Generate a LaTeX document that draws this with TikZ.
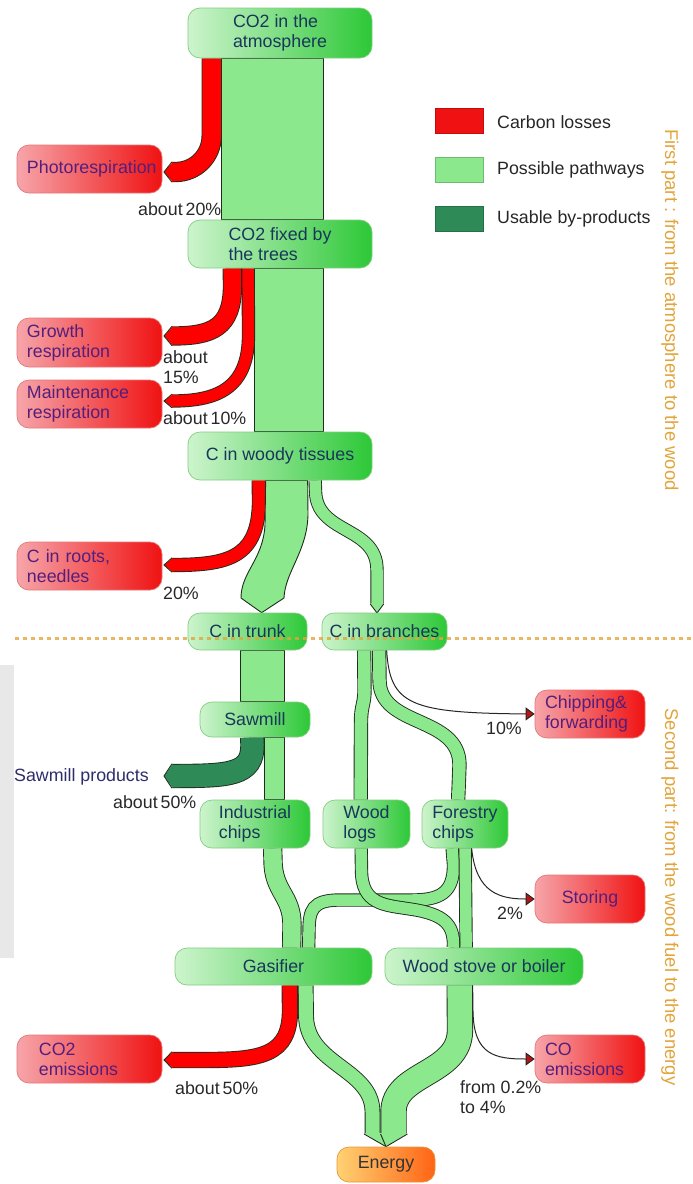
\documentclass[tikz,border=0pt]{standalone}
\usepackage{fontspec}
\setmainfont{Liberation Sans}
\usetikzlibrary{arrows.meta,calc}
\pgfdeclarelayer{bg}
\pgfsetlayers{bg,main}
\definecolor{gL}{RGB}{205,244,205}
\definecolor{gR}{RGB}{45,200,55}
\definecolor{gB}{RGB}{130,205,130}
\definecolor{gT}{RGB}{25,55,90}
\definecolor{rL}{RGB}{246,165,170}
\definecolor{rR}{RGB}{240,18,18}
\definecolor{rB}{RGB}{228,120,120}
\definecolor{rT}{RGB}{85,30,125}
\definecolor{oL}{RGB}{255,210,115}
\definecolor{oR}{RGB}{255,100,20}
\definecolor{oB}{RGB}{230,150,60}
\definecolor{pg}{RGB}{140,232,140}
\definecolor{fred}{RGB}{255,0,0}
\definecolor{dg}{RGB}{46,139,87}
\definecolor{outl}{RGB}{30,45,30}
\definecolor{lbl}{RGB}{40,40,40}
\definecolor{side}{RGB}{225,165,60}
\definecolor{arrred}{RGB}{185,20,20}
\definecolor{prodT}{RGB}{45,45,105}

\newcommand\tipleft[4]{%
  \fill[#4] (#1+1,#2-#3) -- (#1-8,#2) -- (#1+1,#2+#3) -- cycle;
  \draw[outl, line width=0.9pt] (#1,#2-#3) -- (#1-8,#2) -- (#1,#2+#3);}
\newcommand\tipdown[4]{%
  \fill[#4] (#1-#3,#2-1) -- (#1,#2+9) -- (#1+#3,#2-1) -- cycle;
  \draw[outl, line width=0.9pt] (#1-#3,#2) -- (#1,#2+9) -- (#1+#3,#2);}

\tikzset{
  txt/.style={font={\fontsize{17.8}{20}\selectfont}},
  gnode/.style={txt, rounded corners=12pt, left color=gL, right color=gR, draw=gB, line width=0.7pt, text=gT, align=left, inner sep=0pt},
  onode/.style={txt, rounded corners=12pt, left color=oL, right color=oR, draw=oB, line width=0.7pt, text=black!80, align=center, inner sep=0pt},
  rnode/.style={txt, rounded corners=12pt, left color=rL, right color=rR, draw=rB, line width=0.7pt, text=rT, align=left, inner xsep=10pt, inner ysep=0pt},
  flowband/.style={draw=outl, line width=0.9pt, double distance=#1},
  gflow/.style={flowband=#1, double=pg},
  rflow/.style={flowband=#1, double=fred},
  dflow/.style={flowband=#1, double=dg},
  gblock/.style={fill=pg, draw=outl, line width=0.9pt},
  thinarr/.style={draw=black!85, line width=1pt, -{Triangle[length=9pt,width=13pt,fill=arrred]}},
  lab/.style={txt, text=lbl, inner sep=0pt, anchor=west, align=left},
  legbox/.style={minimum width=48pt, minimum height=25pt, inner sep=0pt, line width=0.6pt},
  sidetxt/.style={font={\fontsize{18.5}{20}\selectfont}, text=side, rotate=-90, inner sep=0pt},
  dotline/.style={draw=side, line width=3pt, dash pattern=on 3.5pt off 4.5pt, opacity=0.8}
}

\begin{document}
\begin{tikzpicture}[x=1pt,y=-1pt]
\useasboundingbox (0,0) rectangle (693,1184);
\fill[black!9] (0,665) rectangle (14,958);

% ---------- green nodes
\node[gnode, minimum width=184pt, minimum height=50pt] (atm) at (280,33) {CO2 in the\\atmosphere};
\node[gnode, minimum width=184pt, minimum height=48pt] (fixed) at (280,244) {CO2 fixed by\\the trees};
\node[gnode, minimum width=184pt, minimum height=48pt] (woody) at (280,456) {C in woody tissues};
\node[gnode, minimum width=119pt, minimum height=37pt] (trunk) at (247.5,631.5) {C in trunk};
\node[gnode, minimum width=125pt, minimum height=37pt] (branches) at (384.5,631.5) {C in branches};
\node[gnode, minimum width=110pt, minimum height=35pt] (sawmill) at (255,719.5) {Sawmill};
\node[gnode, minimum width=110pt, minimum height=48pt] (indchips) at (255,824) {Industrial\\chips};
\node[gnode, minimum width=87pt, minimum height=48pt] (logs) at (366.5,824) {Wood\\logs};
\node[gnode, minimum width=86pt, minimum height=48pt] (forestry) at (465,824) {Forestry\\chips};
\node[gnode, minimum width=197pt, minimum height=37pt] (gasifier) at (273.5,966.5) {Gasifier};
\node[gnode, minimum width=198pt, minimum height=37pt] (stove) at (484,966.5) {Wood stove or boiler};
\node[onode, minimum width=98pt, minimum height=35pt] (energy) at (386,1164.5) {Energy};

% ---------- red nodes
\node[rnode, text width=125pt, minimum height=48pt] (photo) at (89.5,169) {Photorespiration};
\node[rnode, text width=125pt, minimum height=49pt] (growth) at (89.5,342.5) {Growth\\respiration};
\node[rnode, text width=125pt, minimum height=48pt] (maint) at (89.5,404) {Maintenance\\respiration};
\node[rnode, text width=125pt, minimum height=48pt] (roots) at (89.5,566) {C in roots,\\needles};
\node[rnode, text width=125pt, minimum height=48pt] (co2em) at (89.5,1059) {\hspace*{12pt}CO2\\\hspace*{12pt}emissions};
\node[rnode, text width=90pt, minimum height=48pt] (chipping) at (590,714) {Chipping\&\\forwarding};
\node[rnode, text width=90pt, minimum height=48pt, align=center] (storing) at (590,899) {Storing};
\node[rnode, text width=90pt, minimum height=48pt] (coem) at (590,1059) {CO\\emissions};

% ---------- flows
\begin{pgfonlayer}{bg}
% atmosphere -> fixed
\filldraw[gblock] ([xshift=34pt]atm.south west) rectangle ([xshift=136pt]fixed.north west);
\draw[rflow=18.5pt, rounded corners=36pt] ([xshift=24pt]atm.south west) |- (172,172);
\tipleft{172}{172}{10.2}{fred}
% fixed -> woody
\filldraw[gblock] ([xshift=67pt]fixed.south west) rectangle ([xshift=136pt]woody.north west);
\draw[rflow=17.5pt] ([xshift=44.5pt]fixed.south west) -- (232.5,285) .. controls (232.5,328) and (212,336) .. (172,336);
\tipleft{172}{336}{9.7}{fred}
\draw[rflow=11.5pt] ([xshift=60.5pt]fixed.south west) -- (248.5,335) .. controls (248.5,390) and (215,401) .. (172,401);
\tipleft{172}{401}{6.8}{fred}
% woody -> roots, trunk, branches
\draw[rflow=12.5pt] ([xshift=71pt]woody.south west) -- (259,500) .. controls (259,558) and (228,565) .. (172,565);
\tipleft{172}{565}{7.2}{fred}
\filldraw[gblock] ([xshift=78pt]woody.south west) -- (265,525) .. controls (263,560) and (241,572) .. (241,598)
  -- ([xshift=74pt]trunk.north west) -- (284,598) .. controls (285,572) and (307,552) .. (308,515)
  -- ([xshift=120pt]woody.south west) -- cycle;
\draw[gflow=11.5pt] ([xshift=127.5pt]woody.south west) -- (315.5,490) .. controls (315.5,535) and (377,525) .. (377,570) -- (377,604);
\tipdown{377}{604}{6.7}{pg}
% trunk -> sawmill -> industrial chips / products
\filldraw[gblock] ([xshift=53pt]trunk.south west) rectangle ([xshift=85pt]sawmill.north west);
\draw[dflow=22.5pt] ([xshift=52.5pt]sawmill.south west) -- (252.5,745) .. controls (252.5,775) and (230,776) .. (172,776);
\filldraw[gblock] ([xshift=65pt]sawmill.south west) rectangle ([xshift=85pt]indchips.north west);
% branches -> logs, forestry, chipping
\draw[gflow=12.5pt] ([xshift=42.5pt]branches.south west) -- (364.5,690) .. controls (364.5,705) and (361,705) .. (361,722) -- ([xshift=38pt]logs.north west);
\draw[gflow=12.5pt] ([xshift=57.5pt]branches.south west) -- (379.5,680) .. controls (379.5,728) and (459.5,715) .. (459.5,765) -- ([xshift=36.5pt]forestry.north west);
% industrial -> gasifier
\draw[gflow=17.5pt] ([xshift=73pt]indchips.south west) -- (273,860) .. controls (273,892) and (292,895) .. (292,925) -- ([xshift=117pt]gasifier.north west);
% forestry -> gasifier, stove
\draw[gflow=11.5pt] ([xshift=30.5pt]forestry.south west) -- (453.5,865) .. controls (453.5,893) and (440,900) .. (412,900) -- (340,900) .. controls (312,900) and (309,910) .. (309,932) -- ([xshift=134pt]gasifier.north west);
\draw[gflow=11.5pt] ([xshift=43.5pt]forestry.south west) -- ([xshift=81.5pt]stove.north west);
% logs -> stove
\draw[gflow=11.5pt] ([xshift=38.5pt]logs.south west) -- (361.5,870) .. controls (361.5,905) and (385,905) .. (410,909) .. controls (445,914) and (453.5,925) .. (453.5,945) -- ([xshift=68.5pt]stove.north west);
% gasifier -> emissions, energy
\draw[rflow=14.5pt] ([xshift=115pt]gasifier.south west) -- (290,1010) .. controls (290,1055) and (262,1060) .. (205,1060) -- (172,1060);
\tipleft{172}{1060}{8.2}{fred}
\draw[gflow=14pt] ([xshift=131pt]gasifier.south west) -- (306,1015) .. controls (306,1065) and (372.5,1068) .. (372.5,1112) -- (372.5,1134);
\draw[gflow=24.5pt] ([xshift=75pt]stove.south west) -- (460,1030) .. controls (460,1075) and (393.5,1072) .. (393.5,1112) -- (393.5,1134);
\fill[pg] (364.1,1133) -- (energy.north) -- (407.4,1133) -- cycle;
\draw[outl, line width=0.9pt] (364.1,1134) -- (energy.north) -- (407.4,1134);
\draw[outl, line width=0.9pt] (380.6,1134) -- (energy.north);
\end{pgfonlayer}

% ---------- thin arrows
\draw[thinarr] ([xshift=65pt]branches.south west) .. controls (390,705) and (410,713) .. (chipping.west);
\draw[thinarr] ([xshift=50pt]forestry.south west) .. controls (476,893) and (500,899) .. (storing.west);
\draw[thinarr] ([xshift=88pt]stove.south west) -- (473,1012) .. controls (474,1055) and (495,1059) .. (coem.west);

% ---------- labels
\node[lab] (l20) at (138,209) {about\,20\%};
\node[lab] (l15) at (163,367) {about\\15\%};
\node[lab] (l10) at (163,418) {about\,10\%};
\node[lab] (lr20) at (163,593) {20\%};
\node[lab, text=prodT] (products) at (14,777) {Sawmill products};
\tipleft{172}{776}{12.2}{dg}
\node[lab] (l50a) at (113,802) {about\,50\%};
\node[lab] (l10b) at (486,728) {10\%};
\node[lab] (l2) at (497,913) {2\%};
\node[lab] (l50b) at (175,1088) {about\,50\%};
\node[lab] (lco) at (460,1097) {from 0.2\%\\to 4\%};

% ---------- legend
\node[legbox, fill=rR, draw=rR!80!black] (lg1) at (459,120.5) {};
\node[legbox, fill=pg, draw=pg!80!black] (lg2) at (459,169.5) {};
\node[legbox, fill=dg, draw=dg!80!black] (lg3) at (459,219) {};
\node[lab, text=black!85] (lt1) at (497,122) {Carbon losses};
\node[lab, text=black!85] (lt2) at (497,170) {Possible pathways};
\node[lab, text=black!85] (lt3) at (497,219) {Usable by-products};

% ---------- side titles and divider
\node[sidetxt] (part1) at (670,310) {First part : from the atmosphere to the wood};
\node[sidetxt] (part2) at (670,897) {Second part: from the wood fuel to the energy};
\draw[dotline] (15,638) -- (693,638);
\end{tikzpicture}
\end{document}
